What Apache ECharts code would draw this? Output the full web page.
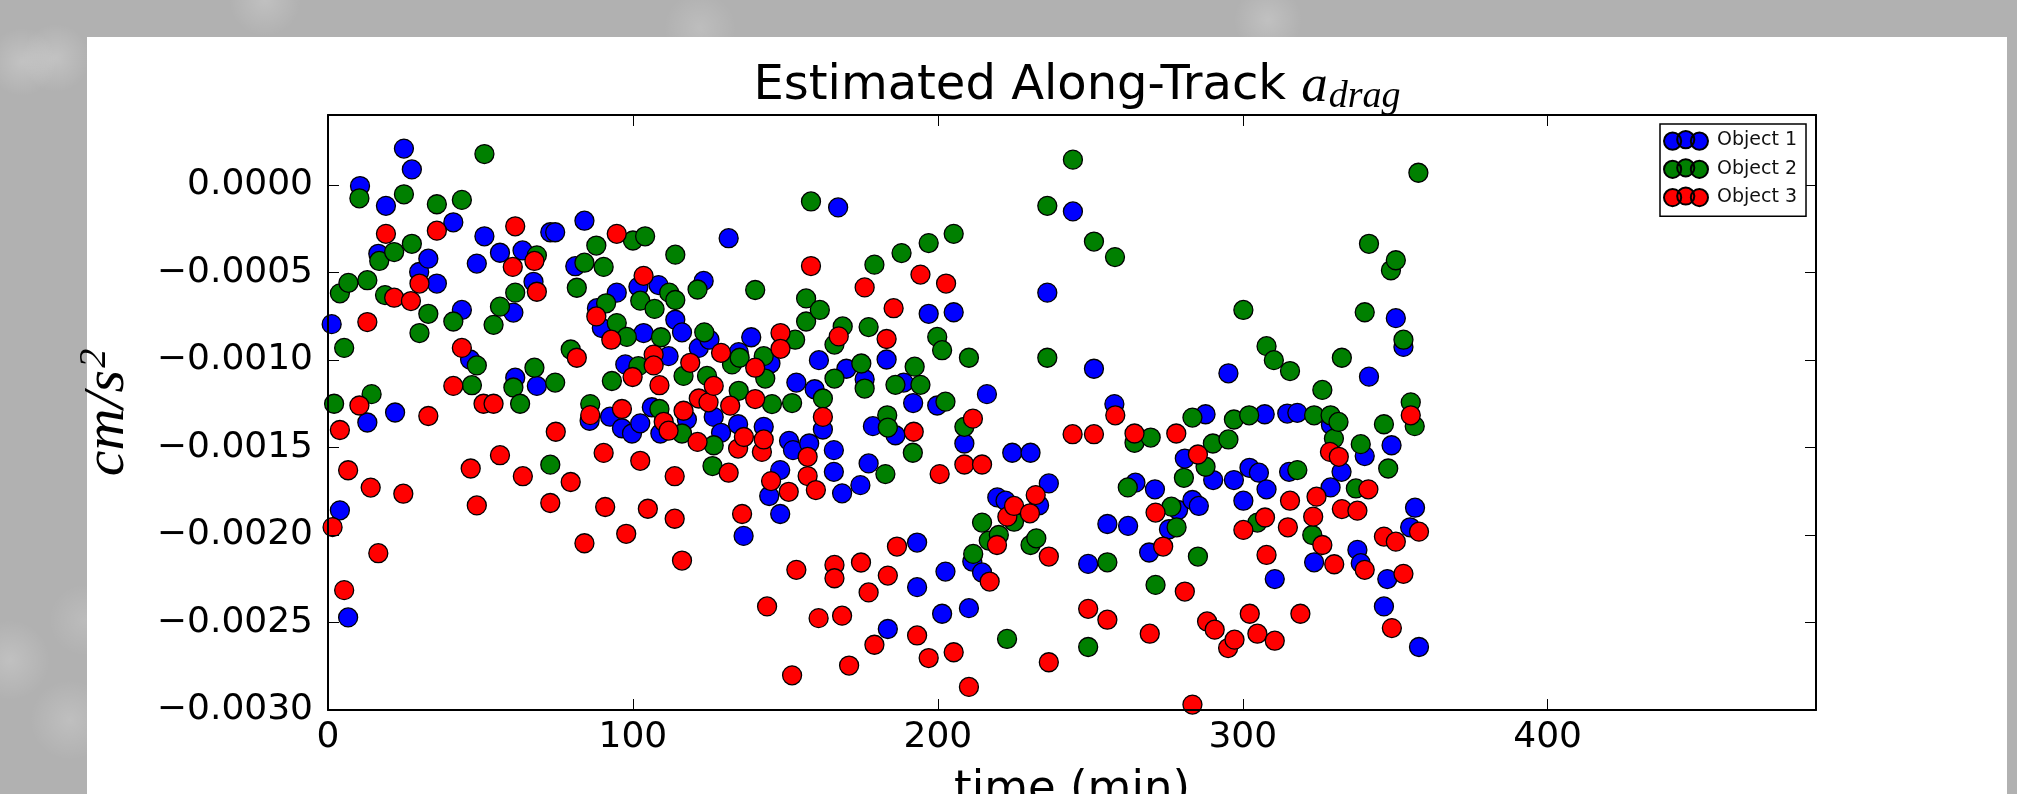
<!DOCTYPE html>
<html>
<head>
<meta charset="utf-8">
<title>Estimated Along-Track a_drag</title>
<script src="https://cdn.jsdelivr.net/npm/echarts@6/dist/echarts.min.js"></script>
<style>
    html, body { margin: 0; padding: 0; }
    body {
        width: 2017px; height: 794px; overflow: hidden; position: relative;
        background-color: #b1b1b1;
        background-image:
            radial-gradient(circle at 22px 62px, rgba(255,255,255,0.22) 0, rgba(255,255,255,0) 34px),
            radial-gradient(circle at 56px 58px, rgba(255,255,255,0.22) 0, rgba(255,255,255,0) 34px),
            radial-gradient(circle at 265px 0px, rgba(255,255,255,0.2) 0, rgba(255,255,255,0) 36px),
            radial-gradient(circle at 700px 28px, rgba(255,255,255,0.16) 0, rgba(255,255,255,0) 36px),
            radial-gradient(circle at 1268px 20px, rgba(255,255,255,0.2) 0, rgba(255,255,255,0) 34px),
            radial-gradient(circle at 10px 660px, rgba(255,255,255,0.2) 0, rgba(255,255,255,0) 40px),
            radial-gradient(circle at 70px 720px, rgba(255,255,255,0.18) 0, rgba(255,255,255,0) 40px),
            radial-gradient(circle at 85px 620px, rgba(255,255,255,0.14) 0, rgba(255,255,255,0) 36px);
    }
    #panel { position: absolute; left: 87px; top: 37px; width: 1920px; height: 760px; background: #fff; }
    #main { position: absolute; left: 0; top: 0; width: 2017px; height: 794px; }
</style>
</head>
<body>
<div id="panel"></div>
<div id="main"></div>
<script>
// 图例名称与颜色
var seriesNames = ['Object 1', 'Object 2', 'Object 3'];
var seriesColors = ['#0000ff', '#008000', '#ff0000'];

// x轴刻度 (min)
var xTicks = [0, 100, 200, 300, 400];
// y轴刻度 (cm/s^2)
var yTicks = [-0.0030, -0.0025, -0.0020, -0.0015, -0.0010, -0.0005, 0.0000];

// Object 1 [time, a_drag]
var object1 = [
    [1.2,-0.000795],[3.9,-0.001859],[6.6,-0.002471],[10.5,-0.000006],[12.9,-0.001357],
    [16.5,-0.000393],[19.0,-0.000119],[22.0,-0.00130],[24.9,0.000208],[27.5,0.000089],
    [29.9,-0.000497],[32.9,-0.000421],[35.7,-0.000563],[41.1,-0.000213],[43.9,-0.000714],
    [46.6,-0.000997],[48.8,-0.000449],[51.3,-0.000293],[56.4,-0.000387],[60.8,-0.000729],
    [61.4,-0.001101],[63.8,-0.000374],[67.4,-0.000553],[68.5,-0.001148],[72.9,-0.000270],
    [74.5,-0.000270],[81.1,-0.000464],[84.1,-0.000204],[85.8,-0.001347],[88.2,-0.000704],
    [89.8,-0.000817],[92.5,-0.001324],[94.7,-0.000615],[96.4,-0.00139],[97.5,-0.001025],
    [99.7,-0.00142],[101.8,-0.000582],[102.4,-0.001362],[103.5,-0.000846],[106.2,-0.00127],
    [108.4,-0.000572],[109.0,-0.00142],[111.7,-0.000978],[113.9,-0.000770],[116.1,-0.000842],
    [117.7,-0.00134],[121.6,-0.000931],[123.2,-0.000548],[125.1,-0.000884],[126.5,-0.001325],
    [128.9,-0.001416],[131.4,-0.000304],[134.5,-0.001367],[134.7,-0.000955],[136.3,-0.002005],
    [138.8,-0.00087],[142.9,-0.001382],[144.7,-0.001777],[145.1,-0.00102],[148.3,-0.001629],
    [148.3,-0.00188],[151.2,-0.001462],[152.5,-0.001515],[153.6,-0.001129],[157.8,-0.001477],
    [159.6,-0.001167],[161.0,-0.001001],[162.3,-0.001397],[165.9,-0.001515],[165.9,-0.001639],
    [167.3,-0.000128],[168.6,-0.001762],[170.0,-0.00105],[174.6,-0.001715],[176.0,-0.00111],
    [177.3,-0.001591],[178.7,-0.001378],[183.2,-0.000997],[183.6,-0.002537],[186.1,-0.00143],
    [188.8,-0.001129],[191.9,-0.001246],[193.2,-0.002043],[193.2,-0.002298],[197.0,-0.000736],
    [199.8,-0.00126],[201.4,-0.00245],[202.5,-0.002209],[205.2,-0.000727],[208.7,-0.001477],
    [210.2,-0.002418],[211.3,-0.002152],[214.5,-0.002214],[216.1,-0.001195],[219.5,-0.001785],
    [222.2,-0.001804],[224.4,-0.00153],[230.4,-0.00153],[233.2,-0.00183],[235.9,-0.000615],
    [236.4,-0.001705],[244.3,-0.000151],[249.3,-0.002165],[251.2,-0.00105],[255.6,-0.001937],
    [257.9,-0.001252],[262.4,-0.001948],[264.8,-0.001701],[269.3,-0.0021],[271.2,-0.001739],
    [275.8,-0.001967],[278.8,-0.001857],[281.0,-0.001563],[283.5,-0.0018],[285.6,-0.001834],
    [287.8,-0.00131],[290.3,-0.001686],[295.3,-0.001076],[297.1,-0.001686],[300.2,-0.001804],
    [302.2,-0.001616],[305.3,-0.001644],[307.2,-0.00131],[307.8,-0.001739],[310.5,-0.002252],
    [314.6,-0.001306],[315.2,-0.001639],[317.9,-0.001302],[323.4,-0.002156],[328.8,-0.001728],
    [328.9,-0.00137],[332.4,-0.001639],[337.6,-0.002085],[338.7,-0.002161],[340.0,-0.001549],
    [341.4,-0.001095],[346.3,-0.002408],[347.4,-0.002252],[348.8,-0.001487],[350.2,-0.000761],
    [352.7,-0.000925],[354.9,-0.001956],[356.5,-0.001844],[357.8,-0.00264]
];

// Object 2 [time, a_drag]
var object2 = [
    [2.0,-0.00125],[3.9,-0.000619],[5.3,-0.000931],[6.7,-0.000559],[10.3,-0.000076],
    [12.9,-0.000544],[14.3,-0.001195],[16.8,-0.000434],[18.7,-0.000629],[21.7,-0.000383],
    [24.9,-0.000053],[27.5,-0.000336],[30.0,-0.000846],[32.9,-0.000736],[35.7,-0.00011],
    [41.1,-0.00078],[43.9,-0.000085],[47.2,-0.001144],[48.8,-0.001031],[51.3,0.000177],
    [54.3,-0.000799],[56.4,-0.000695],[60.8,-0.001157],[61.4,-0.000615],[63.0,-0.00125],
    [67.7,-0.001044],[68.5,-0.000402],[72.9,-0.001598],[74.5,-0.001129],[79.6,-0.00094],
    [81.6,-0.000587],[84.1,-0.000444],[86.0,-0.001252],[88.0,-0.000346],[90.4,-0.000468],
    [91.2,-0.000676],[93.1,-0.00112],[94.7,-0.000789],[98.0,-0.000868],[100.0,-0.000317],
    [101.8,-0.001035],[102.4,-0.000661],[104.0,-0.000293],[107.1,-0.000708],[108.7,-0.00128],
    [109.2,-0.00087],[111.9,-0.000615],[113.9,-0.000398],[113.9,-0.000657],[116.1,-0.00142],
    [116.6,-0.001091],[121.2,-0.000597],[123.4,-0.000842],[124.3,-0.001091],[126.1,-0.001606],
    [126.5,-0.001487],[132.5,-0.001025],[134.7,-0.001176],[135.0,-0.000987],[140.1,-0.0006],
    [142.9,-0.000978],[143.4,-0.001106],[145.6,-0.001252],[152.2,-0.001246],[153.2,-0.000884],
    [156.8,-0.000648],[156.8,-0.00078],[158.4,-0.000094],[161.3,-0.000714],[162.3,-0.00122],
    [166.1,-0.000912],[166.1,-0.001106],[168.8,-0.000808],[174.9,-0.00102],[176.0,-0.001163],
    [177.3,-0.000812],[179.2,-0.000455],[182.8,-0.001652],[183.4,-0.001316],[183.6,-0.001386],
    [186.1,-0.001142],[188.1,-0.000389],[191.8,-0.00153],[192.4,-0.001038],[194.3,-0.001142],
    [197.0,-0.000332],[199.8,-0.000868],[201.4,-0.000944],[202.5,-0.001238],[205.2,-0.000279],
    [208.7,-0.001382],[210.2,-0.000987],[211.6,-0.002108],[214.5,-0.001929],[216.7,-0.002032],
    [220.0,-0.002],[222.7,-0.002594],[225.0,-0.001924],[230.4,-0.002057],[232.3,-0.002019],
    [235.9,-0.000119],[235.9,-0.000987],[244.3,0.000145],[249.3,-0.00264],[251.2,-0.000323],
    [255.6,-0.002156],[258.1,-0.000412],[262.3,-0.001728],[264.5,-0.001473],[269.8,-0.001443],
    [271.4,-0.002285],[276.6,-0.001838],[278.3,-0.001956],[280.7,-0.001673],[283.5,-0.001329],
    [285.3,-0.002123],[287.8,-0.00161],[290.2,-0.001477],[295.3,-0.001454],[297.1,-0.00134],
    [300.2,-0.000714],[302.1,-0.001316],[304.8,-0.001929],[307.8,-0.000921],[310.2,-0.001001],
    [315.5,-0.001063],[317.9,-0.001629],[322.8,-0.002],[323.4,-0.001316],[326.1,-0.001171],
    [328.8,-0.001316],[329.9,-0.001449],[331.4,-0.001354],[332.5,-0.000987],[337.1,-0.001734],
    [338.7,-0.001481],[340.0,-0.000727],[341.4,-0.000336],[346.3,-0.001367],[347.7,-0.00162],
    [348.6,-0.000487],[350.2,-0.00043],[352.7,-0.000884],[355.1,-0.001242],[356.4,-0.001378],
    [357.6,0.00007]
];

// Object 3 [time, a_drag]
var object3 = [
    [1.5,-0.001955],[3.9,-0.0014],[5.3,-0.002315],[6.6,-0.00163],[10.3,-0.00126],
    [12.9,-0.000783],[14.0,-0.001729],[16.5,-0.002104],[19.0,-0.000279],[21.7,-0.000644],
    [24.7,-0.001764],[27.2,-0.000663],[30.0,-0.000563],[32.9,-0.00132],[35.7,-0.000261],
    [41.1,-0.001148],[43.9,-0.000931],[46.8,-0.00162],[48.8,-0.001831],[51.0,-0.00125],
    [54.3,-0.00125],[56.4,-0.001544],[60.6,-0.000468],[61.4,-0.000236],[63.9,-0.001664],
    [67.7,-0.000434],[68.5,-0.00061],[72.9,-0.001817],[74.7,-0.00141],[79.6,-0.001697],
    [81.6,-0.000987],[84.1,-0.002047],[86.0,-0.001315],[88.0,-0.000751],[90.4,-0.001531],
    [90.9,-0.00184],[92.9,-0.000884],[94.7,-0.000279],[96.4,-0.00128],[97.8,-0.001993],
    [99.9,-0.001097],[102.4,-0.001576],[103.5,-0.000519],[104.9,-0.00185],[106.8,-0.000969],
    [106.8,-0.001031],[108.7,-0.001144],[110.1,-0.001353],[111.7,-0.001404],[113.7,-0.001664],
    [113.7,-0.001907],[116.1,-0.002146],[116.6,-0.00129],[118.8,-0.001016],[121.2,-0.001468],
    [121.6,-0.00122],[124.8,-0.001242],[126.5,-0.001148],[128.9,-0.000959],[131.4,-0.001644],
    [131.9,-0.001261],[134.5,-0.001506],[135.8,-0.00188],[136.4,-0.00144],[140.1,-0.001044],
    [140.1,-0.001223],[142.3,-0.001525],[142.9,-0.001454],[144.0,-0.002408],[145.3,-0.001692],
    [148.4,-0.000846],[148.4,-0.000936],[151.1,-0.001753],[152.2,-0.002802],[153.6,-0.002199],
    [157.3,-0.001553],[157.3,-0.001663],[158.4,-0.000463],[160.0,-0.001743],[160.9,-0.002475],
    [162.3,-0.001325],[166.1,-0.002171],[166.1,-0.002247],[167.5,-0.000865],[168.6,-0.002461],
    [170.9,-0.002746],[174.8,-0.002157],[176.0,-0.000585],[177.3,-0.002328],[179.2,-0.002627],
    [183.2,-0.00088],[183.6,-0.002232],[185.5,-0.000704],[186.6,-0.002066],[192.1,-0.00141],
    [193.2,-0.002574],[194.3,-0.000512],[197.0,-0.002703],[200.6,-0.001652],[202.7,-0.000563],
    [205.2,-0.00267],[208.7,-0.001597],[210.2,-0.002868],[211.5,-0.001335],[214.5,-0.001597],
    [217.0,-0.002266],[219.4,-0.002057],[222.8,-0.001895],[225.0,-0.001834],[230.2,-0.001876],
    [232.1,-0.001772],[236.4,-0.002123],[236.4,-0.002727],[244.2,-0.001424],[249.3,-0.002422],
    [251.2,-0.001424],[255.6,-0.002484],[258.2,-0.001316],[264.5,-0.00142],[269.5,-0.002564],
    [271.4,-0.001872],[273.9,-0.002066],[278.2,-0.00142],[281.0,-0.002323],[283.5,-0.002969],
    [285.3,-0.00154],[288.3,-0.002494],[290.8,-0.002541],[295.2,-0.002646],[297.3,-0.002598],
    [300.2,-0.001971],[302.3,-0.00245],[304.8,-0.002564],[307.3,-0.0019],[307.8,-0.002114],
    [310.5,-0.002604],[314.8,-0.001956],[315.5,-0.001804],[318.9,-0.00245],[323.1,-0.001895],
    [324.2,-0.001781],[326.1,-0.002057],[328.6,-0.001525],[330.0,-0.002167],[331.5,-0.001553],
    [332.5,-0.001852],[337.6,-0.001861],[340.0,-0.002199],[341.2,-0.001739],[346.3,-0.002009],
    [348.9,-0.002532],[350.2,-0.002038],[352.7,-0.002222],[355.1,-0.001316],[357.8,-0.001981]
];

var allData = [object1, object2, object3];

// 三个圆点的图例图标
var legendIcon = 'path://M0,11a8.5,8.5 0 1,0 17,0a8.5,8.5 0 1,0 -17,0Z' +
    'M13,9.5a8.5,8.5 0 1,0 17,0a8.5,8.5 0 1,0 -17,0Z' +
    'M26.5,11a8.5,8.5 0 1,0 17,0a8.5,8.5 0 1,0 -17,0Z';

var xStep = xTicks[1] - xTicks[0];
var yStep = yTicks[1] - yTicks[0];

function xLabel(v) {
    return xTicks.indexOf(Math.round(v)) >= 0 && Math.abs(v - Math.round(v)) < 1e-6 ? String(Math.round(v)) : '';
}
function yLabel(v) {
    var k = Math.round(v / yStep);
    if (Math.abs(v - k * yStep) > 1e-9) return '';
    return (k * yStep).toFixed(4).replace('-', '\u2212');
}

var axisLineStyle = { color: '#000', width: 2 };
var tickStyle = { show: true, inside: true, length: 11, lineStyle: { color: '#000', width: 1 } };
var labelFont = { fontFamily: 'DejaVu Sans', fontSize: 36, color: '#000' };

var chart = echarts.init(document.getElementById('main'), null, { renderer: 'canvas' });
chart.setOption({
    animation: false,
    backgroundColor: 'transparent',
    title: {
        text: '{t|Estimated Along-Track }{a|a}{s|drag}',
        left: 1072,
        textAlign: 'center',
        top: 53,
        textStyle: {
            fontWeight: 'normal',
            rich: {
                t: { fontFamily: 'DejaVu Sans', fontWeight: 'normal', fontSize: 48, lineHeight: 58, color: '#000' },
                a: { fontFamily: 'Liberation Serif', fontWeight: 'normal', fontStyle: 'italic', fontSize: 53, lineHeight: 58, color: '#000' },
                s: { fontFamily: 'Liberation Serif', fontWeight: 'normal', fontStyle: 'italic', fontSize: 38, lineHeight: 38, color: '#000',
                     verticalAlign: 'bottom', padding: [24, 0, 0, 1] }
            }
        }
    },
    legend: {
        orient: 'vertical',
        left: 1660,
        top: 124,
        padding: [6, 9, 9, 3],
        itemGap: 7.5,
        itemWidth: 44,
        itemHeight: 20,
        borderColor: '#000',
        borderWidth: 1.5,
        borderRadius: 0,
        backgroundColor: '#fff',
        selectedMode: false,
        textStyle: { fontFamily: 'DejaVu Sans', fontSize: 19, color: '#111', padding: [0, 0, 0, 4] },
        data: seriesNames.map(function (n) { return { name: n, icon: legendIcon }; })
    },
    grid: { left: 328, top: 115, width: 1488, height: 595, containLabel: false, outerBoundsMode: 'none' },
    xAxis: [
        {
            type: 'value', min: 0, max: 488, interval: xStep, position: 'bottom', z: 3,
            name: 'time (min)', nameLocation: 'middle', nameGap: 58,
            nameTextStyle: { fontFamily: 'DejaVu Sans', fontSize: 45, color: '#000' },
            axisLine: { show: true, onZero: false, lineStyle: axisLineStyle },
            axisTick: tickStyle,
            axisLabel: Object.assign({ margin: 10, formatter: xLabel, showMaxLabel: false }, labelFont),
            splitLine: { show: false }
        },
        {
            type: 'value', min: 0, max: 488, interval: xStep, position: 'top', z: 3,
            axisLine: { show: true, onZero: false, lineStyle: axisLineStyle },
            axisTick: tickStyle,
            axisLabel: { show: false },
            splitLine: { show: false }
        }
    ],
    yAxis: [
        {
            type: 'value', min: yTicks[0], max: 0.0004, interval: yStep, position: 'left', z: 3,
            name: '{n|cm/s}{p|2}', nameLocation: 'middle', nameGap: 188,
            nameTextStyle: {
                rich: {
                    n: { fontFamily: 'Liberation Serif', fontStyle: 'italic', fontSize: 58, lineHeight: 64, color: '#000' },
                    p: { fontFamily: 'Liberation Serif', fontStyle: 'italic', fontSize: 38, lineHeight: 38, color: '#000', verticalAlign: 'top', padding: [0, 0, 0, 2] }
                }
            },
            axisLine: { show: true, onZero: false, lineStyle: axisLineStyle },
            axisTick: tickStyle,
            axisLabel: Object.assign({ margin: 15, formatter: yLabel, showMaxLabel: false }, labelFont),
            splitLine: { show: false }
        },
        {
            type: 'value', min: yTicks[0], max: 0.0004, interval: yStep, position: 'right', z: 3,
            axisLine: { show: true, onZero: false, lineStyle: axisLineStyle },
            axisTick: tickStyle,
            axisLabel: { show: false },
            splitLine: { show: false }
        }
    ],
    series: allData.map(function (d, i) {
        return {
            name: seriesNames[i],
            type: 'scatter',
            xAxisIndex: 0,
            yAxisIndex: 0,
            data: d,
            symbol: 'circle',
            symbolSize: 19,
            itemStyle: { color: seriesColors[i], borderColor: '#000', borderWidth: 1.3, opacity: 1 },
            emphasis: { disabled: true }
        };
    })
});
</script>
</body>
</html>
